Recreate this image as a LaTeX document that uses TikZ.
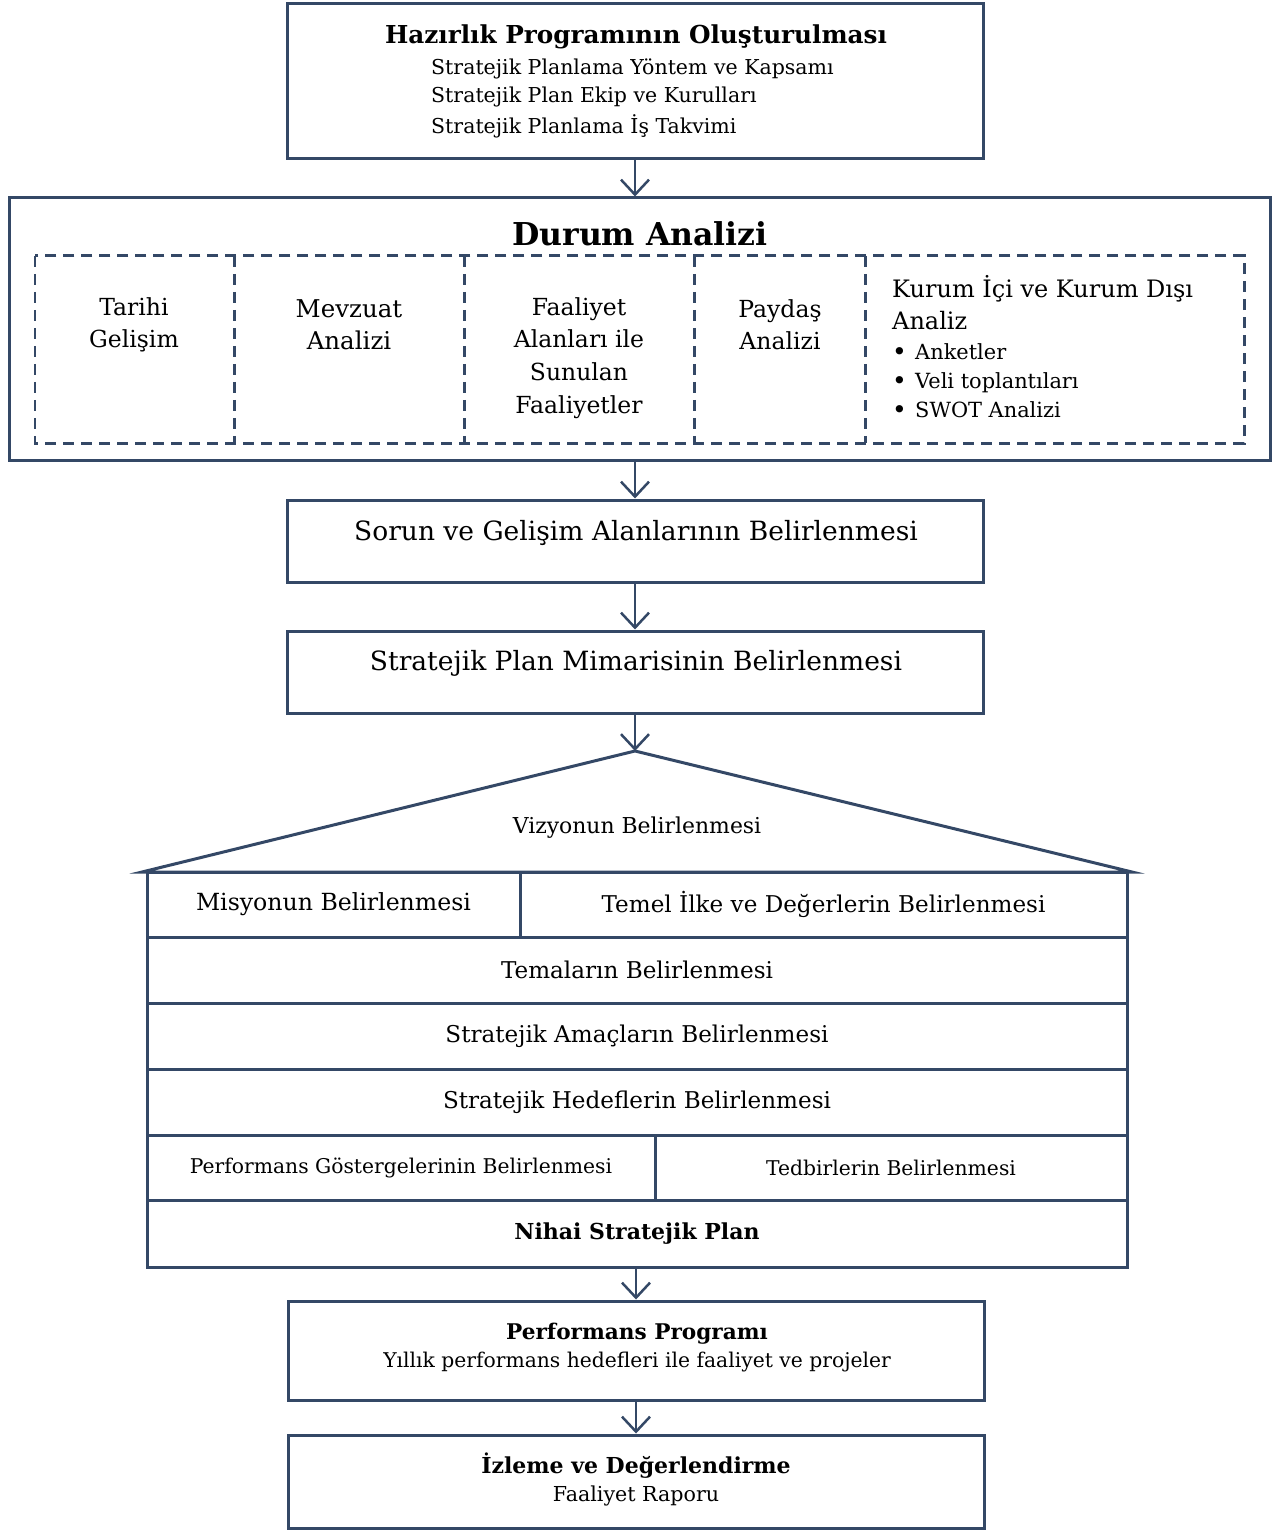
\documentclass[tikz,border=0pt]{standalone}
\usepackage{fontspec}
\setmainfont{DejaVu Serif}
\usetikzlibrary{arrows.meta}
\definecolor{navy}{RGB}{52,72,102}
\newcommand\setfs[2]{\fontsize{#1pt}{#2pt}\selectfont}
\newcommand\bul{\makebox[23pt][l]{\raisebox{-0.5pt}{\fontsize{25pt}{29pt}\selectfont •}}}
\begin{document}
\begin{tikzpicture}[x=1pt,y=-1pt,
  box/.style={draw=navy, line width=3pt, rectangle, inner sep=0pt},
  cell/.style={rectangle, inner sep=0pt, minimum height=187},
  dsh/.style={draw=navy, line width=2.6pt, dash pattern=on 11pt off 7pt},
  arr/.style={draw=navy, line width=2.5pt, -{Straight Barb[length=15pt,width=28pt,line width=2.5pt]}},
  lbl/.style={inner sep=0pt, text=black},
  row/.style={box, minimum width=980, text=black}
]
\useasboundingbox (0,0) rectangle (1278,1530);

% Hazirlik
\node[box, minimum width=696, minimum height=155] (hazirlik) at (635,81.5) {};
\node[lbl, font={\bfseries\setfs{24.7}{28}}] (hazT) at (636,37) {Hazırlık Programının Oluşturulması};
\node[lbl, anchor=west, font={\setfs{20.5}{24}}] (haz1) at (431,69) {Stratejik Planlama Yöntem ve Kapsamı};
\node[lbl, anchor=west, font={\setfs{20.5}{24}}] (haz2) at (431,97) {Stratejik Plan Ekip ve Kurulları};
\node[lbl, anchor=west, font={\setfs{20.5}{24}}] (haz3) at (431,126) {Stratejik Planlama İş Takvimi};

% Durum Analizi
\node[box, minimum width=1261, minimum height=262] (durum) at (639.5,329) {};
\node[lbl, font={\bfseries\setfs{31.5}{36}}] (durT) at (640,234) {Durum Analizi};
\node[cell, minimum width=199] (c1) at (134.5,349.5) {};
\node[cell, minimum width=230] (c2) at (349,349.5) {};
\node[cell, minimum width=230] (c3) at (579,349.5) {};
\node[cell, minimum width=171] (c4) at (779.5,349.5) {};
\node[cell, minimum width=379] (c5) at (1054.5,349.5) {};
\draw[dsh] (c1.north west) rectangle (c5.south east);
\draw[dsh] (c1.north east) -- (c1.south east);
\draw[dsh] (c2.north east) -- (c2.south east);
\draw[dsh] (c3.north east) -- (c3.south east);
\draw[dsh] (c4.north east) -- (c4.south east);
\node[lbl, align=center, font={\setfs{23.5}{32}}] (t1) at (134,325) {Tarihi\\Gelişim};
\node[lbl, align=center, font={\setfs{24.5}{32}}] (t2) at (349,325) {Mevzuat\\Analizi};
\node[lbl, align=center, font={\setfs{23.5}{32.7}}] (t3) at (579,358) {Faaliyet\\Alanları ile\\Sunulan\\Faaliyetler};
\node[lbl, align=center, font={\setfs{23.5}{32}}] (t4) at (780,325) {Paydaş\\Analizi};
\node[lbl, anchor=west, align=left, font={\setfs{24}{32}}] (t5) at (892,303) {Kurum İçi ve Kurum Dışı\\Analiz};
\node[lbl, anchor=west, align=left, font={\setfs{20.9}{29}}] (t5b) at (892,381) {\bul Anketler\\\bul Veli toplantıları\\\bul SWOT Analizi};

% Sorun / Mimari
\node[box, minimum width=696, minimum height=82] (sorun) at (635,541) {};
\node[lbl, font={\setfs{26.5}{30}}] (sorunT) at (636,533) {Sorun ve Gelişim Alanlarının Belirlenmesi};
\node[box, minimum width=696, minimum height=82] (mimari) at (635,672) {};
\node[lbl, font={\setfs{26.5}{30}}] (mimariT) at (636,663) {Stratejik Plan Mimarisinin Belirlenmesi};

% Triangle
\coordinate (apex) at (635,751);
\coordinate (triL) at (142,872);
\coordinate (triR) at (1132,872);
\draw[navy, line width=3pt, line join=miter] (triL) -- (apex) -- (triR) -- cycle;
\node[lbl, font={\setfs{21.9}{25}}] (vizyon) at (637,828) {Vizyonun Belirlenmesi};

% Grid
\node[box, minimum width=373, minimum height=65, font={\setfs{23.6}{27}}] (misyon) at (333.5,904.5) {Misyonun Belirlenmesi};
\node[box, minimum width=607, minimum height=65, font={\setfs{23.1}{27}}] (temel) at (823.5,904.5) {Temel İlke ve Değerlerin Belirlenmesi};
\node[row, minimum height=66, font={\setfs{23.1}{27}}] (tema) at (637,970) {Temaların Belirlenmesi};
\node[row, minimum height=66, font={\setfs{23.1}{27}}] (amac) at (637,1036) {Stratejik Amaçların Belirlenmesi};
\node[row, minimum height=66, font={\setfs{23.1}{27}}] (hedef) at (637,1102) {Stratejik Hedeflerin Belirlenmesi};
\node[box, minimum width=508, minimum height=65, font={\setfs{20.3}{23}}] (gosterge) at (401,1167.5) {Performans Göstergelerinin Belirlenmesi};
\node[box, minimum width=472, minimum height=65, font={\setfs{20.3}{23}}] (tedbir) at (891,1167.5) {Tedbirlerin Belirlenmesi};
\node[row, minimum height=67, font={\bfseries\setfs{22}{27}}] (nihai) at (637,1233.5) {Nihai Stratejik Plan};

% Performans Programi
\node[box, minimum width=696, minimum height=99] (pp) at (636,1350.5) {};
\node[lbl, font={\bfseries\setfs{21.6}{26}}] (ppT) at (637,1334) {Performans Programı};
\node[lbl, font={\setfs{20.3}{24}}] (ppS) at (637,1362) {Yıllık performans hedefleri ile faaliyet ve projeler};

% Izleme
\node[box, minimum width=696, minimum height=93] (izleme) at (636,1481.5) {};
\node[lbl, font={\bfseries\setfs{22}{26}}] (izT) at (636,1466) {İzleme ve Değerlendirme};
\node[lbl, font={\setfs{20.6}{24}}] (izS) at (636,1496) {Faaliyet Raporu};

% Arrows
\draw[arr] (hazirlik.south) -- (hazirlik.south |- durum.north);
\draw[arr] (sorun.north |- durum.south) -- (sorun.north);
\draw[arr] (sorun.south) -- (mimari.north);
\draw[arr] (mimari.south) -- (apex);
\draw[arr] (pp.north |- nihai.south) -- (pp.north);
\draw[arr] (pp.south) -- (izleme.north);
\end{tikzpicture}
\end{document}
